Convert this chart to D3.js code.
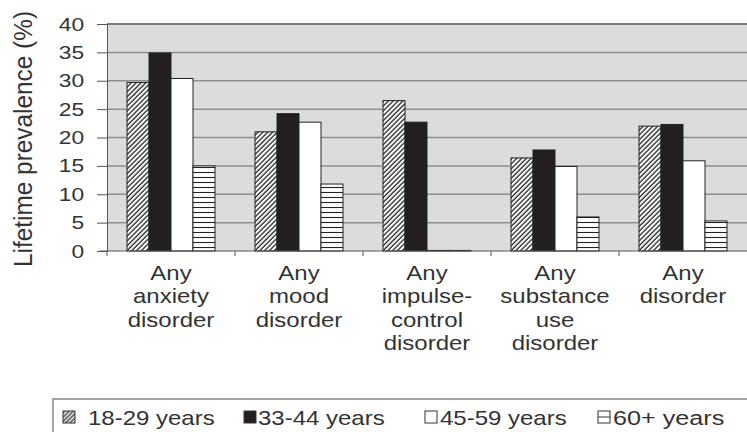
<!DOCTYPE html>
<html>
<head>
<meta charset="utf-8">
<script src="https://cdn.jsdelivr.net/npm/d3@7"></script>
<style>
  body { margin: 0; background: #fff; }
  svg { display: block; font-family: "Liberation Sans", Arial, sans-serif; }
</style>
</head>
<body>
<svg id="chart" width="747" height="432"></svg>
<script>
// categories (x groups), with their wrapped label lines
var categories = ["anxiety", "mood", "impulse", "substance", "any"];
var categoryLines = [
  ["Any", "anxiety", "disorder"],
  ["Any", "mood", "disorder"],
  ["Any", "impulse-", "control", "disorder"],
  ["Any", "substance", "use", "disorder"],
  ["Any", "disorder"]
];

// age groups (series)
var series = ["18-29 years", "33-44 years", "45-59 years", "60+ years"];

// lifetime prevalence (%) per series, in category order
var age18to29 = [29.7, 21.0, 26.5, 16.4, 22.0];
var age33to44 = [34.9, 24.2, 22.7, 17.8, 22.3];
var age45to59 = [30.4, 22.7, 0.1, 14.9, 15.9];
var age60plus = [15.0, 11.8, 0.1, 6.0, 5.3];

var yTicks = [0, 5, 10, 15, 20, 25, 30, 35, 40];

var values = [age18to29, age33to44, age45to59, age60plus];
var fills = ["url(#hatch)", "#231f20", "#ffffff", "url(#stripes)"];
var stretch = "scale(1.2,1)"; // glyphs in the reference are a bit wide

var svg = d3.select("#chart");
var plotL = 107, plotR = 747, plotT = 24, plotB = 251;

var x = d3.scaleBand().domain(categories).range([plotL, plotR]).paddingInner(0).paddingOuter(0);
var x1 = d3.scaleBand().domain(series).range([0, x.bandwidth()]).paddingInner(0).paddingOuter(0.91);
var y = d3.scaleLinear().domain([0, 40]).range([plotB, plotT]);

// patterns
var defs = svg.append("defs");
var hatch = defs.append("pattern")
  .attr("id", "hatch")
  .attr("patternUnits", "userSpaceOnUse")
  .attr("width", 3.4).attr("height", 3.4)
  .attr("patternTransform", "rotate(45)");
hatch.append("rect").attr("width", 3.4).attr("height", 3.4).attr("fill", "#fff");
hatch.append("line").attr("x1", 1).attr("y1", 0).attr("x2", 1).attr("y2", 3.4)
  .attr("stroke", "#222").attr("stroke-width", 1.3);

var stripes = defs.append("pattern")
  .attr("id", "stripes")
  .attr("patternUnits", "userSpaceOnUse")
  .attr("width", 6).attr("height", 5);
stripes.append("rect").attr("width", 6).attr("height", 5).attr("fill", "#fff");
stripes.append("line").attr("x1", 0).attr("y1", 2.5).attr("x2", 6).attr("y2", 2.5)
  .attr("stroke", "#222").attr("stroke-width", 1.1);

var smallHatch = defs.append("pattern")
  .attr("id", "smallHatch")
  .attr("patternUnits", "userSpaceOnUse")
  .attr("width", 3).attr("height", 3)
  .attr("patternTransform", "rotate(45)");
smallHatch.append("rect").attr("width", 3).attr("height", 3).attr("fill", "#fff");
smallHatch.append("line").attr("x1", 1).attr("y1", 0).attr("x2", 1).attr("y2", 3)
  .attr("stroke", "#333").attr("stroke-width", 1.4);

// plot background
svg.append("rect")
  .attr("x", plotL).attr("y", plotT)
  .attr("width", plotR - plotL).attr("height", plotB - plotT)
  .attr("fill", "#dcdcdc");

// gridlines
svg.append("g").selectAll("line")
  .data(yTicks.filter(function(d) { return d > 0; }))
  .enter().append("line")
  .attr("x1", plotL).attr("x2", plotR)
  .attr("y1", function(d) { return y(d); })
  .attr("y2", function(d) { return y(d); })
  .attr("stroke", function(d) { return d === 40 ? "#7a7a7a" : "#8e8e8e"; })
  .attr("stroke-width", function(d) { return d === 40 ? 2 : 1.5; });

// bars
var groups = svg.append("g").selectAll("g")
  .data(categories)
  .enter().append("g")
  .attr("transform", function(d) { return "translate(" + x(d) + ",0)"; });

groups.selectAll("rect")
  .data(function(d, i) {
    return series.map(function(s, j) { return { s: s, v: values[j][i], j: j }; });
  })
  .enter().append("rect")
  .attr("x", function(d) { return x1(d.s); })
  .attr("width", x1.bandwidth())
  .attr("y", function(d) { return y(d.v); })
  .attr("height", function(d) { return y(0) - y(d.v); })
  .attr("fill", function(d) { return fills[d.j]; })
  .attr("stroke", "#222")
  .attr("stroke-width", 1);

// y axis
var yAxis = svg.append("g")
  .attr("transform", "translate(" + plotL + ",0)")
  .call(d3.axisLeft(y).tickValues(yTicks).tickSize(10).tickSizeOuter(0).tickPadding(9));
yAxis.select(".domain").attr("stroke", "#555");
yAxis.selectAll(".tick line").attr("stroke", "#555");
yAxis.selectAll(".tick text")
  .attr("font-size", 19)
  .attr("font-family", "Liberation Sans, Arial, sans-serif")
  .attr("fill", "#333")
  .attr("transform", stretch);

// x axis baseline and boundary ticks
svg.append("line")
  .attr("x1", plotL - 7).attr("x2", plotR)
  .attr("y1", plotB).attr("y2", plotB)
  .attr("stroke", "#555").attr("stroke-width", 1.2);
svg.append("g").selectAll("line")
  .data(categories)
  .enter().append("line")
  .attr("x1", function(d) { return x(d); })
  .attr("x2", function(d) { return x(d); })
  .attr("y1", plotB).attr("y2", plotB + 5)
  .attr("stroke", "#555");

// category labels
var labels = svg.append("g").selectAll("g")
  .data(categories)
  .enter().append("g")
  .attr("transform", function(d) {
    return "translate(" + (x(d) + x.bandwidth() / 2) + ",280) " + stretch;
  });
labels.append("text")
  .attr("text-anchor", "middle")
  .attr("font-size", 20)
  .attr("fill", "#333")
  .selectAll("tspan")
  .data(function(d, i) { return categoryLines[i]; })
  .enter().append("tspan")
  .attr("x", 0)
  .attr("y", function(d, i) { return i * 23.5; })
  .text(function(d) { return d; });

// y axis title
svg.append("text")
  .attr("transform", "translate(32,139) " + stretch + " rotate(-90)")
  .attr("text-anchor", "middle")
  .attr("font-size", 21)
  .attr("fill", "#333")
  .attr("textLength", 256)
  .attr("lengthAdjust", "spacingAndGlyphs")
  .text("Lifetime prevalence (%)");

// legend
svg.append("rect")
  .attr("x", 53).attr("y", 399)
  .attr("width", 760).attr("height", 60)
  .attr("fill", "#fff")
  .attr("stroke", "#888").attr("stroke-width", 1.5);

var legendFills = ["url(#smallHatch)", "#231f20", "#fff", "#fff"];
var swatchX = [63, 244, 425, 598];
var labelX = [88, 258, 440, 613];
series.forEach(function(s, i) {
  var item = svg.append("g").attr("transform", "translate(" + swatchX[i] + ",0)");
  item.append("rect")
    .attr("x", 0).attr("y", 411)
    .attr("width", 12).attr("height", 12)
    .attr("fill", legendFills[i])
    .attr("stroke", "#333").attr("stroke-width", 1);
  if (i === 3) {
    item.append("line")
      .attr("x1", 0).attr("x2", 12).attr("y1", 417).attr("y2", 417)
      .attr("stroke", "#333").attr("stroke-width", 1);
  }
  svg.append("g").attr("transform", "translate(" + labelX[i] + ",425) " + stretch)
    .append("text")
    .attr("font-size", i === 3 ? 21 : 20)
    .attr("fill", "#333")
    .text(s);
});
</script>
</body>
</html>
